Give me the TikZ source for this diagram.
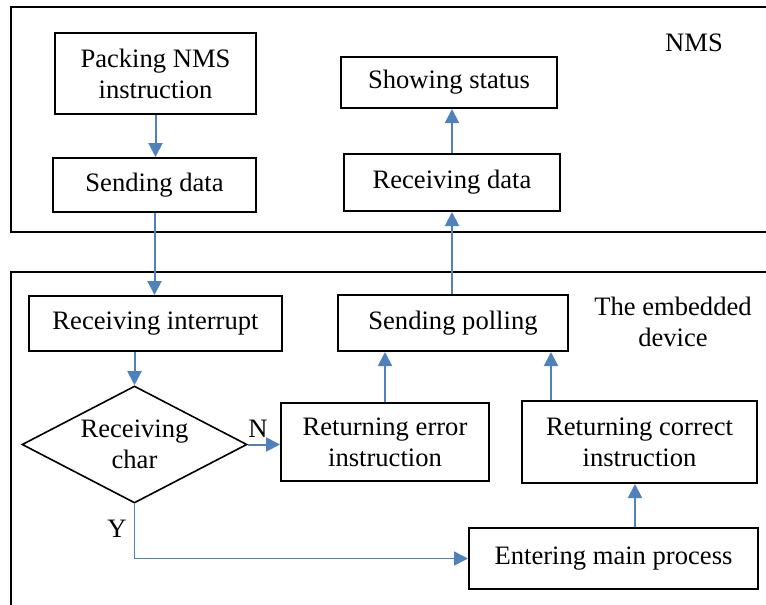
\documentclass[tikz,border=0pt]{standalone}
\usepackage{fontspec}
\setmainfont{Liberation Serif}
\usetikzlibrary{shapes.geometric,arrows.meta,calc}
\definecolor{flowblue}{HTML}{4F81BD}
\begin{document}
\begin{tikzpicture}[x=0.5pt,y=-0.5pt,
  every node/.style={font=\fontsize{13.3}{15.5}\selectfont},
  box/.style={draw=black,line width=1pt,inner sep=0pt,align=center},
  dec/.style={draw=black,line width=0.8pt,diamond,inner sep=0pt,align=center,aspect=1.92},
  frame/.style={draw=black,line width=1pt},
  flow/.style={draw=flowblue,line width=1pt,-{Triangle[length=7pt,width=7pt]}},
  lbl/.style={inner sep=0pt,align=center}]
\useasboundingbox (0,0) rectangle (766,605);
\draw[frame] (11,7) rectangle (780,232);
\draw[frame] (11,272) rectangle (780,620);
\node[box,minimum width=100.5pt,minimum height=40.5pt] (pack) at (155.5,73.5) {Packing NMS\\instruction};
\node[box,minimum width=101.5pt,minimum height=27pt] (send) at (154.5,185) {Sending data};
\node[box,minimum width=108pt,minimum height=25.5pt] (show) at (449,82.5) {Showing status};
\node[box,minimum width=108pt,minimum height=28.5pt] (rdata) at (452,182.5) {Receiving data};
\node[box,minimum width=126.5pt,minimum height=27.5pt] (rint) at (155.5,323.5) {Receiving interrupt};
\node[box,minimum width=115pt,minimum height=28pt] (poll) at (453,323) {Sending polling};
\node[dec,minimum width=112.5pt,minimum height=58.5pt] (dia) at (134.5,444.5) {Receiving\\char};
\node[box,minimum width=104pt,minimum height=39pt] (err) at (385,442) {Returning error\\instruction};
\node[box,minimum width=117.5pt,minimum height=41pt] (corr) at (639.5,442) {Returning correct\\instruction};
\node[box,minimum width=144.5pt,minimum height=30.5pt] (ent) at (613.5,558.5) {Entering main process};
\node[lbl] (nms) at (694,43) {NMS};
\node[lbl] (emb) at (673,322) {The embedded\\device};
\node[lbl] (n) at (258,429) {N};
\node[lbl] (y) at (117,529) {Y};
\draw[flow] (pack.south) -- (pack.south |- send.north);
\draw[flow] (send.south) -- (send.south |- rint.north);
\draw[flow] (rint.south -| dia.north) -- (dia.north);
\draw[flow] (dia.east) -- (dia.east -| err.west);
\draw[flow] (err.north) -- (err.north |- poll.south);
\draw[flow] ([xshift=-44.25pt]corr.north) -- ([xshift=-44.25pt]corr.north |- poll.south);
\draw[flow] ([xshift=10.75pt]ent.north) -- ([xshift=10.75pt]ent.north |- corr.south);
\draw[flow] (poll.north -| rdata.south) -- (rdata.south);
\draw[flow] (rdata.north) -- (rdata.north |- show.south);
\draw[flow,line width=0.8pt] (dia.south) |- (ent.west);
\end{tikzpicture}
\end{document}
